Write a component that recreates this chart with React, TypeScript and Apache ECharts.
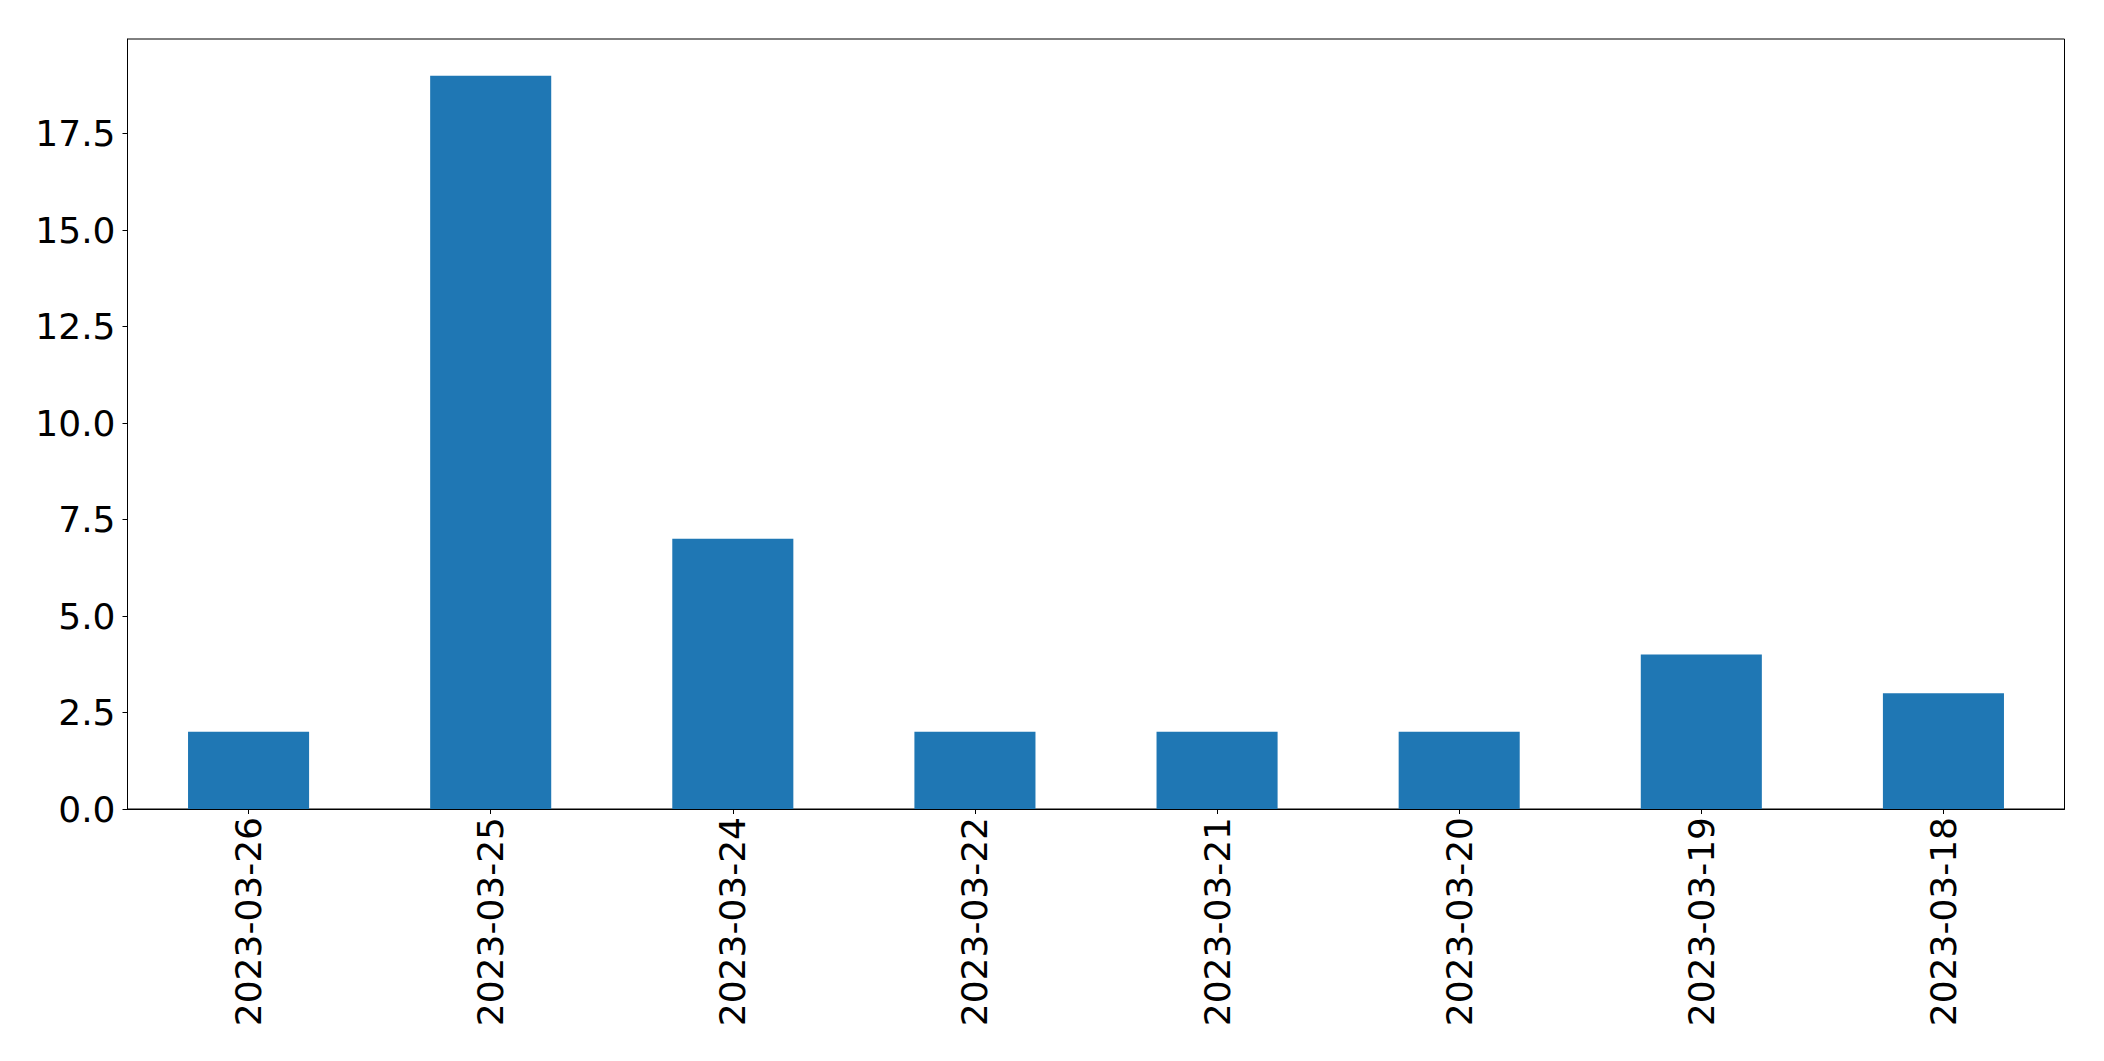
import React, { useEffect, useRef } from "react";
import * as echarts from "echarts";

const categories = [
  "2023-03-26",
  "2023-03-25",
  "2023-03-24",
  "2023-03-22",
  "2023-03-21",
  "2023-03-20",
  "2023-03-19",
  "2023-03-18",
];
const counts = [2, 19, 7, 2, 2, 2, 4, 3];
const yMax = 19.95;
const yInterval = 2.5;

export default function App() {
  const ref = useRef<HTMLDivElement>(null);
  useEffect(() => {
    document.body.style.margin = "0";
    const chart = echarts.init(ref.current!, null, { renderer: "svg" });
    const font = "DejaVu Sans";
    chart.setOption({
      animation: false,
      backgroundColor: "#ffffff",
      grid: {
        left: 127.5,
        right: 39.5,
        top: 39,
        bottom: 252,
        show: true,
        borderColor: "#000000",
        borderWidth: 1,
        backgroundColor: "transparent",
      },
      xAxis: {
        type: "category",
        data: categories,
        axisLine: { show: true, lineStyle: { color: "#000000", width: 1 } },
        axisTick: { show: true, alignWithLabel: true, length: 5, lineStyle: { color: "#000000" } },
        axisLabel: {
          rotate: 90,
          margin: 8,
          color: "#000000",
          fontFamily: font,
          fontSize: 36,
          interval: 0,
        },
        splitLine: { show: false },
      },
      yAxis: {
        type: "value",
        min: 0,
        max: yMax,
        interval: yInterval,
        axisLine: { show: true, lineStyle: { color: "#000000", width: 1 } },
        axisTick: { show: true, length: 5, lineStyle: { color: "#000000" } },
        axisLabel: {
          margin: 12,
          color: "#000000",
          fontFamily: font,
          fontSize: 36,
          showMaxLabel: false,
          formatter: (v: number) => v.toFixed(1),
        },
        splitLine: { show: false },
      },
      series: [
        {
          type: "bar",
          data: counts,
          barWidth: "50%",
          itemStyle: { color: "#1f77b4" },
        },
      ],
    });
    return () => chart.dispose();
  }, []);
  return (
    <div
      ref={ref}
      style={{ position: "fixed", left: 0, top: 0, width: 2104, height: 1061 }}
    />
  );
}
